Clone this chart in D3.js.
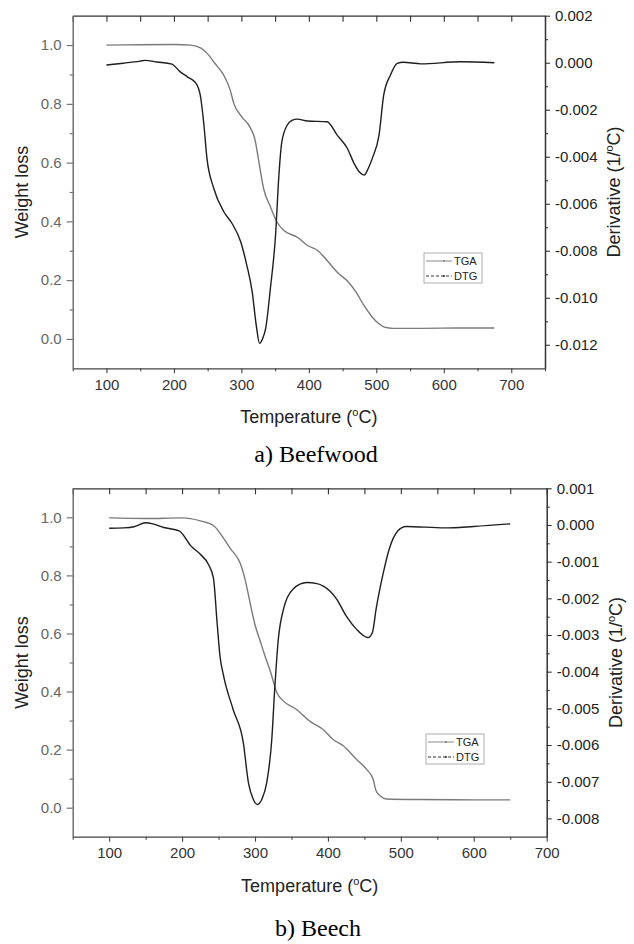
<!DOCTYPE html>
<html>
<head>
<meta charset="utf-8">
<script src="https://cdn.jsdelivr.net/npm/d3@7"></script>
<style>
  body { margin: 0; background: #fff; }
  text { font-family: "Liberation Sans", Arial, sans-serif; }
  text.caption { font-family: "Liberation Serif", "Times New Roman", serif; }
</style>
</head>
<body>
<div id="chart"></div>
<script>
// ---- data (temperature in ºC, weight fraction, derivative in 1/ºC) ----
const beefwoodTGA = [
  [100, 1.000], [150, 1.001], [200, 1.002], [225, 1.000], [240, 0.990], [250, 0.970],
  [260, 0.940], [274, 0.897], [283, 0.850], [289, 0.800], [301, 0.755], [313, 0.720],
  [320, 0.680], [326, 0.602], [333, 0.511], [343, 0.450], [353, 0.397], [363, 0.369],
  [383, 0.346], [398, 0.318], [413, 0.301], [427, 0.267], [442, 0.227], [459, 0.193],
  [470, 0.159], [482, 0.113], [494, 0.074], [505, 0.050], [512, 0.040], [525, 0.036],
  [566, 0.036], [620, 0.037], [675, 0.037]
];
const beefwoodDTG = [
  [100, -0.0001], [125, -0.00002], [150, 0.00007], [157, 0.0001], [175, 0.00003],
  [197, -0.00006], [209, -0.00038], [220, -0.0006], [232, -0.00085], [239, -0.00137],
  [244, -0.00251], [249, -0.00407], [259, -0.00534], [274, -0.00634], [286, -0.00683],
  [299, -0.00762], [308, -0.00861], [316, -0.00974], [322, -0.01116], [327, -0.01194],
  [332, -0.0117], [336, -0.0113], [343, -0.0096], [351, -0.00719], [355, -0.00506],
  [360, -0.00336], [368, -0.00265], [375, -0.00245], [383, -0.0024], [398, -0.00248],
  [427, -0.00251], [442, -0.00308], [457, -0.00364], [467, -0.00428], [475, -0.00465],
  [482, -0.00478], [488, -0.0045], [494, -0.00407], [504, -0.00308], [511, -0.00137],
  [521, -0.00052], [531, -0.00003], [540, 0.00002], [566, -0.00005], [625, 0.00004],
  [675, 0.0]
];
const beechTGA = [
  [100, 0.998], [150, 0.996], [200, 0.998], [225, 0.988], [243, 0.972], [255, 0.935],
  [266, 0.893], [280, 0.840], [285, 0.800], [290, 0.745], [295, 0.685], [300, 0.630],
  [307, 0.575], [314, 0.520], [321, 0.470], [330, 0.396], [339, 0.367], [357, 0.338],
  [375, 0.298], [393, 0.270], [407, 0.235], [421, 0.213], [439, 0.167], [453, 0.132],
  [462, 0.098], [466, 0.058], [472, 0.040], [480, 0.030], [525, 0.028], [600, 0.027],
  [650, 0.027]
];
const beechDTG = [
  [100, -0.00009], [120, -0.00008], [134, -0.00005], [150, 0.00006], [160, 0.00003],
  [175, -0.00007], [196, -0.00016], [212, -0.00057], [225, -0.0008], [236, -0.00107],
  [243, -0.00145], [248, -0.00266], [252, -0.00358], [257, -0.00412], [270, -0.00503],
  [284, -0.00594], [291, -0.00703], [297, -0.00745], [303, -0.00762], [310, -0.00745],
  [316, -0.00703], [323, -0.00585], [327, -0.00448], [332, -0.00311], [339, -0.0023],
  [352, -0.00175], [371, -0.00157], [385, -0.0016], [393, -0.00166], [412, -0.00202],
  [425, -0.00248], [439, -0.00284], [455, -0.00307], [461, -0.00293], [466, -0.0023],
  [475, -0.00139], [484, -0.00066], [496, -0.00016], [507, -0.00004], [560, -0.00008],
  [600, -0.00004], [650, 0.00003]
];

// ---- ticks ----
const tempTicks = [100, 200, 300, 400, 500, 600, 700];
const tempMinorA = [50, 150, 250, 350, 450, 550, 650, 750];
const tempMinorB = [50, 150, 250, 350, 450, 550, 650];
const weightTicks = [0.0, 0.2, 0.4, 0.6, 0.8, 1.0];
const weightMinor = [0.1, 0.3, 0.5, 0.7, 0.9];
const derivTicksA = [0.002, 0, -0.002, -0.004, -0.006, -0.008, -0.010, -0.012];
const derivMinorA = [0.001, -0.001, -0.003, -0.005, -0.007, -0.009, -0.011];
const derivTicksB = [0.001, 0, -0.001, -0.002, -0.003, -0.004, -0.005, -0.006, -0.007, -0.008];
const derivMinorB = [0.0005, -0.0005, -0.0015, -0.0025, -0.0035, -0.0045, -0.0055, -0.0065, -0.0075];

const legendLabels = ["TGA", "DTG"];

const svg = d3.select("#chart").append("svg")
  .attr("width", 634)
  .attr("height", 944);

function drawPanel(cfg) {
  const left = 72.7, right = cfg.right, top = cfg.top, bottom = cfg.bottom;

  const x = d3.scaleLinear().domain(cfg.xDomain).range([left, right]);
  const yL = d3.scaleLinear().domain([-0.1, 1.1]).range([bottom, top]);
  const yR = d3.scaleLinear().domain(cfg.rDomain).range([bottom, top]);

  const g = svg.append("g");

  // top border with inward ticks
  g.append("g")
    .attr("transform", `translate(0,${top})`)
    .call(d3.axisBottom(x).tickValues(tempTicks.concat(cfg.xMinor)).tickSize(6).tickSizeOuter(0).tickFormat(""))
    .call(a => a.select(".domain").attr("stroke", "#333").attr("stroke-width", 1.3))
    .call(a => a.selectAll(".tick line").attr("stroke", "#333").attr("stroke-width", 1.1));

  // bottom axis
  g.append("g").attr("transform", `translate(0,${bottom})`)
    .call(d3.axisBottom(x).tickValues(tempTicks).tickSize(5).tickPadding(6).tickSizeOuter(0))
    .call(a => a.select(".domain").attr("stroke", "#444").attr("stroke-width", 1.3))
    .call(a => a.selectAll(".tick line").attr("stroke", "#444").attr("stroke-width", 1.1))
    .call(a => a.selectAll("text").attr("font-size", 15).attr("fill", "#333"));
  g.append("g").attr("transform", `translate(0,${bottom})`)
    .call(d3.axisBottom(x).tickValues(cfg.xMinor).tickSize(3).tickFormat(""))
    .call(a => a.select(".domain").remove())
    .call(a => a.selectAll(".tick line").attr("stroke", "#444").attr("stroke-width", 1.1));

  // left axis
  g.append("g").attr("transform", `translate(${left},0)`)
    .call(d3.axisLeft(yL).tickValues(weightTicks).tickSize(6).tickPadding(5).tickSizeOuter(0)
      .tickFormat(d => d.toFixed(1)))
    .call(a => a.select(".domain").attr("stroke", "#666").attr("stroke-width", 1.4))
    .call(a => a.selectAll(".tick line").attr("stroke", "#666").attr("stroke-width", 1.1))
    .call(a => a.selectAll("text").attr("font-size", 15).attr("fill", "#666"));
  g.append("g").attr("transform", `translate(${left},0)`)
    .call(d3.axisLeft(yL).tickValues(weightMinor).tickSize(3).tickFormat(""))
    .call(a => a.select(".domain").remove())
    .call(a => a.selectAll(".tick line").attr("stroke", "#666").attr("stroke-width", 1.1));

  // right axis
  g.append("g").attr("transform", `translate(${right},0)`)
    .call(d3.axisRight(yR).tickValues(cfg.rTicks).tickSize(5).tickPadding(5).tickSizeOuter(0)
      .tickFormat(d => d.toFixed(3)))
    .call(a => a.select(".domain").attr("stroke", "#333").attr("stroke-width", 1.5))
    .call(a => a.selectAll(".tick line").attr("stroke", "#333").attr("stroke-width", 1.1))
    .call(a => a.selectAll("text").attr("font-size", 15).attr("fill", "#222"));
  g.append("g").attr("transform", `translate(${right},0)`)
    .call(d3.axisRight(yR).tickValues(cfg.rMinor).tickSize(3).tickFormat(""))
    .call(a => a.select(".domain").remove())
    .call(a => a.selectAll(".tick line").attr("stroke", "#333").attr("stroke-width", 1.1));

  // curves
  const lineTGA = d3.line().x(d => x(d[0])).y(d => yL(d[1])).curve(d3.curveMonotoneX);
  const lineDTG = d3.line().x(d => x(d[0])).y(d => yR(d[1])).curve(d3.curveMonotoneX);

  g.append("path").datum(cfg.tga)
    .attr("fill", "none").attr("stroke", "#7a7a7a").attr("stroke-width", 1.4)
    .attr("d", lineTGA);
  g.append("path").datum(cfg.dtg)
    .attr("fill", "none").attr("stroke", "#1e1e1e").attr("stroke-width", 1.4)
    .attr("d", lineDTG);

  // axis titles
  const cy = (top + bottom) / 2;
  g.append("text")
    .attr("transform", `translate(28,${cy}) rotate(-90)`)
    .attr("text-anchor", "middle").attr("font-size", 18).attr("fill", "#222")
    .text("Weight loss");
  const rt = g.append("text")
    .attr("transform", `translate(${right + 75},${cy}) rotate(-90)`)
    .attr("text-anchor", "middle").attr("font-size", 18).attr("fill", "#222");
  rt.append("tspan").text("Derivative (1/");
  rt.append("tspan").attr("font-size", 11).attr("dy", -7).text("o");
  rt.append("tspan").attr("dy", 7).text("C)");

  const bt = g.append("text")
    .attr("x", (left + right) / 2).attr("y", bottom + 55)
    .attr("text-anchor", "middle").attr("font-size", 18).attr("fill", "#222");
  bt.append("tspan").text("Temperature (");
  bt.append("tspan").attr("font-size", 11).attr("dy", -7).text("o");
  bt.append("tspan").attr("dy", 7).text("C)");

  // caption
  g.append("text")
    .attr("class", "caption")
    .attr("x", cfg.captionX).attr("y", cfg.captionY)
    .attr("text-anchor", "middle")
    .attr("font-size", 24).attr("fill", "#000")
    .text(cfg.caption);

  // legend
  const lg = g.append("g").attr("transform", `translate(${cfg.legendX},${cfg.legendY})`);
  lg.append("rect").attr("width", 58).attr("height", 30)
    .attr("fill", "#fff").attr("stroke", "#999").attr("stroke-width", 0.8);
  legendLabels.forEach((lab, i) => {
    const ly = 8 + i * 15;
    lg.append("line").attr("x1", 2).attr("x2", 28).attr("y1", ly).attr("y2", ly)
      .attr("stroke", i === 0 ? "#7a7a7a" : "#1e1e1e").attr("stroke-width", 0.9)
      .attr("stroke-dasharray", i === 0 ? null : "3,2");
    lg.append("circle").attr("cx", 20).attr("cy", ly).attr("r", 0.9)
      .attr("fill", i === 0 ? "#7a7a7a" : "#1e1e1e");
    lg.append("text").attr("x", 30).attr("y", ly + 4)
      .attr("font-size", 11).attr("fill", "#222").text(lab);
  });
}

drawPanel({
  top: 15.7, bottom: 368.3, right: 545,
  xDomain: [50, 750], xMinor: tempMinorA,
  rDomain: [-0.013, 0.002], rTicks: derivTicksA, rMinor: derivMinorA,
  tga: beefwoodTGA, dtg: beefwoodDTG,
  caption: "a) Beefwood", captionX: 316, captionY: 462,
  legendX: 424, legendY: 253
});

drawPanel({
  top: 488.3, bottom: 836.7, right: 546.7,
  xDomain: [50, 700], xMinor: tempMinorB,
  rDomain: [-0.0085, 0.001], rTicks: derivTicksB, rMinor: derivMinorB,
  tga: beechTGA, dtg: beechDTG,
  caption: "b) Beech", captionX: 318, captionY: 936,
  legendX: 426, legendY: 734
});
</script>
</body>
</html>
